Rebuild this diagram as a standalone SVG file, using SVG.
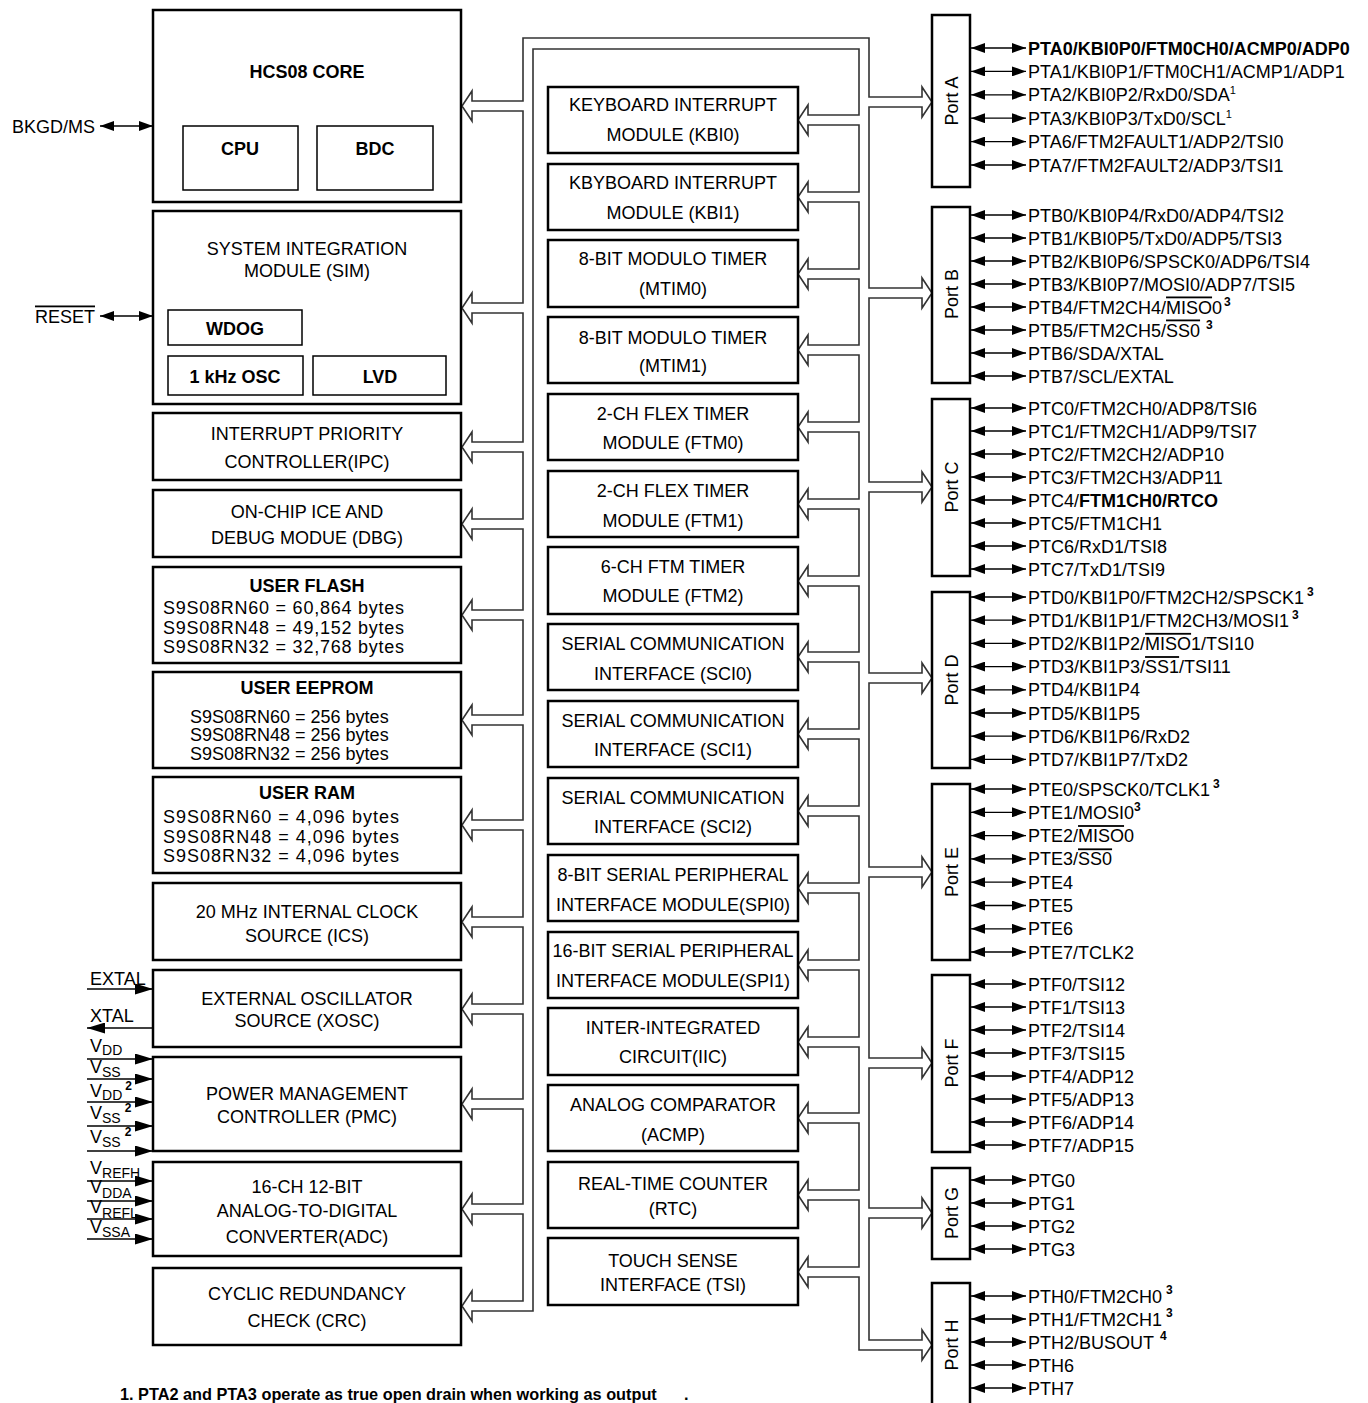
<svg xmlns="http://www.w3.org/2000/svg" width="1368" height="1403" viewBox="0 0 1368 1403">
<defs>
<style>
.bx{fill:#fff;stroke:#000;stroke-width:2.5}
.ib{fill:#fff;stroke:#000;stroke-width:1.5}
text{font-family:"Liberation Sans",Arial,Helvetica,sans-serif;font-size:18px;fill:#000}
.m{text-anchor:middle}
.b{font-weight:bold}
.bus{fill:#fff;stroke:#333;stroke-width:1.6;stroke-linejoin:miter}
.pin{stroke:#000;stroke-width:1.3;fill:none}
.pd{marker-start:url(#ah);marker-end:url(#ah)}
.pi{marker-end:url(#ah2)}
.sub{font-size:14px}
.sup{font-size:11px}
.sup3{font-size:12px;font-weight:bold}
.ov{text-decoration:overline}
.fn{font-size:16.3px;font-weight:bold}
</style>
<marker id="ah" viewBox="0 0 14 10" refX="14" refY="5" markerWidth="14" markerHeight="10" markerUnits="userSpaceOnUse" orient="auto-start-reverse"><path d="M0,0 L14,5 L0,10 z" fill="#000"/></marker>
<marker id="ah2" viewBox="0 0 18 11" refX="18" refY="5.5" markerWidth="18" markerHeight="11" markerUnits="userSpaceOnUse" orient="auto-start-reverse"><path d="M0,0 L18,5.5 L0,11 z" fill="#000"/></marker>
</defs>
<rect width="1368" height="1403" fill="#fff"/>

<g id="connectors">
<path class="bus" d="M533,49 L859,49
L859,115 L808,115 L808,105 L798,120 L808,135 L808,125 L859,125
L859,192 L808,192 L808,182 L798,197 L808,212 L808,202 L859,202
L859,269 L808,269 L808,259 L798,274 L808,289 L808,279 L859,279
L859,345 L808,345 L808,335 L798,350 L808,365 L808,355 L859,355
L859,422 L808,422 L808,412 L798,427 L808,442 L808,432 L859,432
L859,499 L808,499 L808,489 L798,504 L808,519 L808,509 L859,509
L859,576 L808,576 L808,566 L798,581 L808,596 L808,586 L859,586
L859,652 L808,652 L808,642 L798,657 L808,672 L808,662 L859,662
L859,729 L808,729 L808,719 L798,734 L808,749 L808,739 L859,739
L859,806 L808,806 L808,796 L798,811 L808,826 L808,816 L859,816
L859,883 L808,883 L808,873 L798,888 L808,903 L808,893 L859,893
L859,960 L808,960 L808,950 L798,965 L808,980 L808,970 L859,970
L859,1037 L808,1037 L808,1027 L798,1042 L808,1057 L808,1047 L859,1047
L859,1113 L808,1113 L808,1103 L798,1118 L808,1133 L808,1123 L859,1123
L859,1190 L808,1190 L808,1180 L798,1195 L808,1210 L808,1200 L859,1200
L859,1267 L808,1267 L808,1257 L798,1272 L808,1287 L808,1277 L859,1277
L859,1350 L922,1350 L922,1360 L932,1345 L922,1330 L922,1340 L869,1340
L869,1218 L922,1218 L922,1228 L932,1213 L922,1198 L922,1208 L869,1208
L869,1068 L922,1068 L922,1078 L932,1063 L922,1048 L922,1058 L869,1058
L869,877 L922,877 L922,887 L932,872 L922,857 L922,867 L869,867
L869,683 L922,683 L922,693 L932,678 L922,663 L922,673 L869,673
L869,492 L922,492 L922,502 L932,487 L922,472 L922,482 L869,482
L869,298 L922,298 L922,308 L932,293 L922,278 L922,288 L869,288
L869,107 L922,107 L922,117 L932,102 L922,87 L922,97 L869,97
L869,38 L523,38
L523,101 L472,101 L472,91 L462,106 L472,121 L472,111 L523,111
L523,303 L472,303 L472,293 L462,308 L472,323 L472,313 L523,313
L523,442 L472,442 L472,432 L462,447 L472,462 L472,452 L523,452
L523,519 L472,519 L472,509 L462,524 L472,539 L472,529 L523,529
L523,610 L472,610 L472,600 L462,615 L472,630 L472,620 L523,620
L523,715 L472,715 L472,705 L462,720 L472,735 L472,725 L523,725
L523,820 L472,820 L472,810 L462,825 L472,840 L472,830 L523,830
L523,917 L472,917 L472,907 L462,922 L472,937 L472,927 L523,927
L523,1004 L472,1004 L472,994 L462,1009 L472,1024 L472,1014 L523,1014
L523,1099 L472,1099 L472,1089 L462,1104 L472,1119 L472,1109 L523,1109
L523,1204 L472,1204 L472,1194 L462,1209 L472,1224 L472,1214 L523,1214
L523,1301 L472,1301 L472,1291 L462,1306 L472,1321 L472,1311 L533,1311 Z"/>

<!-- left pins -->
<line class="pin pd" x1="100" y1="126" x2="153" y2="126"/>
<line class="pin pd" x1="100" y1="316" x2="153" y2="316"/>
<line class="pin pi" x1="87" y1="989" x2="153" y2="989"/>
<line class="pin pi" x1="153" y1="1028" x2="87" y2="1028"/>
<line class="pin pi" x1="87" y1="1059" x2="153" y2="1059"/>
<line class="pin pi" x1="87" y1="1079" x2="153" y2="1079"/>
<line class="pin pi" x1="87" y1="1102" x2="153" y2="1102"/>
<line class="pin pi" x1="87" y1="1126" x2="153" y2="1126"/>
<line class="pin pi" x1="87" y1="1151" x2="153" y2="1151"/>
<line class="pin pi" x1="87" y1="1181" x2="153" y2="1181"/>
<line class="pin pi" x1="87" y1="1201" x2="153" y2="1201"/>
<line class="pin pi" x1="87" y1="1219" x2="153" y2="1219"/>
<line class="pin pi" x1="87" y1="1239" x2="153" y2="1239"/>

<!-- right pins -->
<g class="pin pd">
<line x1="971" y1="48" x2="1026" y2="48"/><line x1="971" y1="71.4" x2="1026" y2="71.4"/><line x1="971" y1="94.8" x2="1026" y2="94.8"/><line x1="971" y1="118.2" x2="1026" y2="118.2"/><line x1="971" y1="141.6" x2="1026" y2="141.6"/><line x1="971" y1="165" x2="1026" y2="165"/>
<line x1="971" y1="215" x2="1026" y2="215"/><line x1="971" y1="238" x2="1026" y2="238"/><line x1="971" y1="261" x2="1026" y2="261"/><line x1="971" y1="284" x2="1026" y2="284"/><line x1="971" y1="307" x2="1026" y2="307"/><line x1="971" y1="330" x2="1026" y2="330"/><line x1="971" y1="353" x2="1026" y2="353"/><line x1="971" y1="376" x2="1026" y2="376"/>
<line x1="971" y1="408" x2="1026" y2="408"/><line x1="971" y1="431" x2="1026" y2="431"/><line x1="971" y1="454" x2="1026" y2="454"/><line x1="971" y1="477" x2="1026" y2="477"/><line x1="971" y1="500" x2="1026" y2="500"/><line x1="971" y1="523" x2="1026" y2="523"/><line x1="971" y1="546" x2="1026" y2="546"/><line x1="971" y1="569" x2="1026" y2="569"/>
<line x1="971" y1="597" x2="1026" y2="597"/><line x1="971" y1="620.2" x2="1026" y2="620.2"/><line x1="971" y1="643.4" x2="1026" y2="643.4"/><line x1="971" y1="666.6" x2="1026" y2="666.6"/><line x1="971" y1="689.8" x2="1026" y2="689.8"/><line x1="971" y1="713" x2="1026" y2="713"/><line x1="971" y1="736.2" x2="1026" y2="736.2"/><line x1="971" y1="759.4" x2="1026" y2="759.4"/>
<line x1="971" y1="789" x2="1026" y2="789"/><line x1="971" y1="812.3" x2="1026" y2="812.3"/><line x1="971" y1="835.6" x2="1026" y2="835.6"/><line x1="971" y1="858.9" x2="1026" y2="858.9"/><line x1="971" y1="882.2" x2="1026" y2="882.2"/><line x1="971" y1="905.5" x2="1026" y2="905.5"/><line x1="971" y1="928.8" x2="1026" y2="928.8"/><line x1="971" y1="952" x2="1026" y2="952"/>
<line x1="971" y1="984" x2="1026" y2="984"/><line x1="971" y1="1007" x2="1026" y2="1007"/><line x1="971" y1="1030" x2="1026" y2="1030"/><line x1="971" y1="1053" x2="1026" y2="1053"/><line x1="971" y1="1076" x2="1026" y2="1076"/><line x1="971" y1="1099" x2="1026" y2="1099"/><line x1="971" y1="1122" x2="1026" y2="1122"/><line x1="971" y1="1145" x2="1026" y2="1145"/>
<line x1="971" y1="1180" x2="1026" y2="1180"/><line x1="971" y1="1203" x2="1026" y2="1203"/><line x1="971" y1="1226" x2="1026" y2="1226"/><line x1="971" y1="1249" x2="1026" y2="1249"/>
<line x1="971" y1="1296" x2="1026" y2="1296"/><line x1="971" y1="1319" x2="1026" y2="1319"/><line x1="971" y1="1342" x2="1026" y2="1342"/><line x1="971" y1="1365" x2="1026" y2="1365"/><line x1="971" y1="1388" x2="1026" y2="1388"/>
</g>
</g>

<!-- left column -->
<g id="hcs08-core">
<rect class="bx" x="153" y="10" width="308" height="192"/>
<text class="m b" x="307" y="77.5">HCS08 CORE</text>
<rect class="ib" x="183" y="126" width="115" height="64"/>
<text class="m b" x="240" y="154.5">CPU</text>
<rect class="ib" x="317" y="126" width="116" height="64"/>
<text class="m b" x="375" y="154.5">BDC</text>
</g>
<g id="bkgd"><text x="95" y="132.5" text-anchor="end">BKGD/MS</text></g>
<g id="sim">
<rect class="bx" x="153" y="211" width="308" height="193"/>
<text class="m" x="307" y="254.5">SYSTEM INTEGRATION</text>
<text class="m" x="307" y="276.5">MODULE (SIM)</text>
<rect class="ib" x="168" y="310" width="134" height="35"/>
<text class="m b" x="235" y="334.5">WDOG</text>
<rect class="ib" x="168" y="356" width="135" height="39"/>
<text class="m b" x="235" y="382.5">1 kHz OSC</text>
<rect class="ib" x="313" y="356" width="133" height="39"/>
<text class="m b" x="380" y="382.5">LVD</text>
</g>
<g id="reset"><text x="95" y="322.5" text-anchor="end" class="ov">RESET</text></g>
<g id="ipc">
<rect class="bx" x="153" y="413" width="308" height="67"/>
<text class="m" x="307" y="439.5">INTERRUPT PRIORITY</text>
<text class="m" x="307" y="467.5">CONTROLLER(IPC)</text>
</g>
<g id="dbg">
<rect class="bx" x="153" y="490" width="308" height="67"/>
<text class="m" x="307" y="517.5">ON-CHIP ICE AND</text>
<text class="m" x="307" y="543.5">DEBUG MODUE (DBG)</text>
</g>
<g id="flash">
<rect class="bx" x="153" y="567" width="308" height="96"/>
<text class="m b" x="307" y="591.5">USER FLASH</text>
<text x="163" y="614" textLength="241" lengthAdjust="spacing">S9S08RN60 = 60,864 bytes</text>
<text x="163" y="634" textLength="241" lengthAdjust="spacing">S9S08RN48 = 49,152 bytes</text>
<text x="163" y="653" textLength="241" lengthAdjust="spacing">S9S08RN32 = 32,768 bytes</text>
</g>
<g id="eeprom">
<rect class="bx" x="153" y="672" width="308" height="96"/>
<text class="m b" x="307" y="694">USER EEPROM</text>
<text x="190" y="723">S9S08RN60 = 256 bytes</text>
<text x="190" y="741">S9S08RN48 = 256 bytes</text>
<text x="190" y="760">S9S08RN32 = 256 bytes</text>
</g>
<g id="ram">
<rect class="bx" x="153" y="777" width="308" height="96"/>
<text class="m b" x="307" y="799">USER RAM</text>
<text x="163" y="823" textLength="236" lengthAdjust="spacing">S9S08RN60 = 4,096 bytes</text>
<text x="163" y="843" textLength="236" lengthAdjust="spacing">S9S08RN48 = 4,096 bytes</text>
<text x="163" y="862" textLength="236" lengthAdjust="spacing">S9S08RN32 = 4,096 bytes</text>
</g>
<g id="ics">
<rect class="bx" x="153" y="883" width="308" height="77"/>
<text class="m" x="307" y="917.5">20 MHz INTERNAL CLOCK</text>
<text class="m" x="307" y="941.5">SOURCE (ICS)</text>
</g>
<g id="xosc">
<rect class="bx" x="153" y="970" width="308" height="77"/>
<text class="m" x="307" y="1004.5">EXTERNAL OSCILLATOR</text>
<text class="m" x="307" y="1026.5">SOURCE (XOSC)</text>
</g>
<g id="pmc">
<rect class="bx" x="153" y="1057" width="308" height="94"/>
<text class="m" x="307" y="1099.5">POWER MANAGEMENT</text>
<text class="m" x="307" y="1122.5">CONTROLLER (PMC)</text>
</g>
<g id="adc">
<rect class="bx" x="153" y="1162" width="308" height="94"/>
<text class="m" x="307" y="1192.5">16-CH 12-BIT</text>
<text class="m" x="307" y="1216.5">ANALOG-TO-DIGITAL</text>
<text class="m" x="307" y="1242.5">CONVERTER(ADC)</text>
</g>
<g id="crc">
<rect class="bx" x="153" y="1268" width="308" height="77"/>
<text class="m" x="307" y="1299.5">CYCLIC REDUNDANCY</text>
<text class="m" x="307" y="1326.5">CHECK (CRC)</text>
</g>

<!-- left pin labels -->
<g id="left-pins">
<text x="90" y="985">EXTAL</text>
<text x="90" y="1022">XTAL</text>
<text x="90" y="1052">V<tspan class="sub" dy="3">DD</tspan></text>
<text x="90" y="1073">V<tspan class="sub" dy="4">SS</tspan></text>
<text x="90" y="1097">V<tspan class="sub" dy="3">DD</tspan><tspan class="sup3" dx="3" dy="-10">2</tspan></text>
<text x="90" y="1119">V<tspan class="sub" dy="4">SS</tspan><tspan class="sup3" dx="4" dy="-11">2</tspan></text>
<text x="90" y="1143">V<tspan class="sub" dy="4">SS</tspan><tspan class="sup3" dx="4" dy="-11">2</tspan></text>
<text x="90" y="1174">V<tspan class="sub" dy="4">REFH</tspan></text>
<text x="90" y="1193">V<tspan class="sub" dy="5">DDA</tspan></text>
<text x="90" y="1213">V<tspan class="sub" dy="5">REFL</tspan></text>
<text x="90" y="1233">V<tspan class="sub" dy="4">SSA</tspan></text>
</g>

<!-- middle column -->
<g id="kbi0"><rect class="bx" x="548" y="87" width="250" height="66"/><text class="m" x="673" y="111">KEYBOARD INTERRUPT</text><text class="m" x="673" y="140.5">MODULE (KBI0)</text></g>
<g id="kbi1"><rect class="bx" x="548" y="164" width="250" height="66"/><text class="m" x="673" y="188.5">KBYBOARD INTERRUPT</text><text class="m" x="673" y="218.5">MODULE (KBI1)</text></g>
<g id="mtim0"><rect class="bx" x="548" y="240" width="250" height="67"/><text class="m" x="673" y="264.5">8-BIT MODULO TIMER</text><text class="m" x="673" y="295">(MTIM0)</text></g>
<g id="mtim1"><rect class="bx" x="548" y="317" width="250" height="66"/><text class="m" x="673" y="343.5">8-BIT MODULO TIMER</text><text class="m" x="673" y="371.5">(MTIM1)</text></g>
<g id="ftm0"><rect class="bx" x="548" y="394" width="250" height="66"/><text class="m" x="673" y="419.5">2-CH FLEX TIMER</text><text class="m" x="673" y="448.5">MODULE (FTM0)</text></g>
<g id="ftm1"><rect class="bx" x="548" y="471" width="250" height="66"/><text class="m" x="673" y="496.5">2-CH FLEX TIMER</text><text class="m" x="673" y="526.5">MODULE (FTM1)</text></g>
<g id="ftm2"><rect class="bx" x="548" y="547" width="250" height="67"/><text class="m" x="673" y="572.5">6-CH FTM TIMER</text><text class="m" x="673" y="601.5">MODULE (FTM2)</text></g>
<g id="sci0"><rect class="bx" x="548" y="624" width="250" height="66"/><text class="m" x="673" y="649.5">SERIAL COMMUNICATION</text><text class="m" x="673" y="679.5">INTERFACE (SCI0)</text></g>
<g id="sci1"><rect class="bx" x="548" y="701" width="250" height="66"/><text class="m" x="673" y="726.5">SERIAL COMMUNICATION</text><text class="m" x="673" y="755.5">INTERFACE (SCI1)</text></g>
<g id="sci2"><rect class="bx" x="548" y="778" width="250" height="66"/><text class="m" x="673" y="803.5">SERIAL COMMUNICATION</text><text class="m" x="673" y="832.5">INTERFACE (SCI2)</text></g>
<g id="spi0"><rect class="bx" x="548" y="855" width="250" height="66"/><text class="m" x="673" y="880.5">8-BIT SERIAL PERIPHERAL</text><text class="m" x="673" y="910.5">INTERFACE MODULE(SPI0)</text></g>
<g id="spi1"><rect class="bx" x="548" y="932" width="250" height="66"/><text class="m" x="673" y="956.5">16-BIT SERIAL PERIPHERAL</text><text class="m" x="673" y="986.5">INTERFACE MODULE(SPI1)</text></g>
<g id="iic"><rect class="bx" x="548" y="1008" width="250" height="67"/><text class="m" x="673" y="1033.5">INTER-INTEGRATED</text><text class="m" x="673" y="1062.5">CIRCUIT(IIC)</text></g>
<g id="acmp"><rect class="bx" x="548" y="1085" width="250" height="66"/><text class="m" x="673" y="1110.5">ANALOG COMPARATOR</text><text class="m" x="673" y="1140.5">(ACMP)</text></g>
<g id="rtc"><rect class="bx" x="548" y="1162" width="250" height="66"/><text class="m" x="673" y="1189.5">REAL-TIME COUNTER</text><text class="m" x="673" y="1214.5">(RTC)</text></g>
<g id="tsi"><rect class="bx" x="548" y="1238" width="250" height="67"/><text class="m" x="673" y="1266.5">TOUCH SENSE</text><text class="m" x="673" y="1290.5">INTERFACE (TSI)</text></g>

<!-- ports -->
<g id="port-a"><rect class="bx" x="932" y="15" width="38" height="172"/><text class="m" transform="translate(951,101) rotate(-90)" y="6.5">Port A</text></g>
<g id="port-b"><rect class="bx" x="932" y="207" width="38" height="176"/><text class="m" transform="translate(951,294) rotate(-90)" y="6.5">Port B</text></g>
<g id="port-c"><rect class="bx" x="932" y="399" width="38" height="177"/><text class="m" transform="translate(951,487) rotate(-90)" y="6.5">Port C</text></g>
<g id="port-d"><rect class="bx" x="932" y="592" width="38" height="176"/><text class="m" transform="translate(951,680) rotate(-90)" y="6.5">Port D</text></g>
<g id="port-e"><rect class="bx" x="932" y="784" width="38" height="176"/><text class="m" transform="translate(951,872) rotate(-90)" y="6.5">Port E</text></g>
<g id="port-f"><rect class="bx" x="932" y="975" width="38" height="177"/><text class="m" transform="translate(951,1063) rotate(-90)" y="6.5">Port F</text></g>
<g id="port-g"><rect class="bx" x="932" y="1168" width="38" height="91"/><text class="m" transform="translate(951,1213) rotate(-90)" y="6.5">Port G</text></g>
<g id="port-h"><rect class="bx" x="932" y="1283" width="38" height="140"/><text class="m" transform="translate(951,1345) rotate(-90)" y="6.5">Port H</text></g>

<!-- right pin labels -->
<g id="pin-labels">
<text class="b" x="1028" y="54.5">PTA0/KBI0P0/FTM0CH0/ACMP0/ADP0</text>
<text x="1028" y="77.9">PTA1/KBI0P1/FTM0CH1/ACMP1/ADP1</text>
<text x="1028" y="101.3">PTA2/KBI0P2/RxD0/SDA<tspan class="sup" dy="-7">1</tspan></text>
<text x="1028" y="124.7">PTA3/KBI0P3/TxD0/SCL<tspan class="sup" dy="-7">1</tspan></text>
<text x="1028" y="148.1">PTA6/FTM2FAULT1/ADP2/TSI0</text>
<text x="1028" y="171.5">PTA7/FTM2FAULT2/ADP3/TSI1</text>

<text x="1028" y="221.5">PTB0/KBI0P4/RxD0/ADP4/TSI2</text>
<text x="1028" y="244.5">PTB1/KBI0P5/TxD0/ADP5/TSI3</text>
<text x="1028" y="267.5">PTB2/KBI0P6/SPSCK0/ADP6/TSI4</text>
<text x="1028" y="290.5">PTB3/KBI0P7/MOSI0/ADP7/TSI5</text>
<text x="1028" y="313.5">PTB4/FTM2CH4/<tspan class="ov">MISO</tspan>0<tspan class="sup3" dx="2" dy="-8">3</tspan></text>
<text x="1028" y="336.5">PTB5/FTM2CH5/<tspan class="ov">SS0</tspan><tspan class="sup3" dx="6" dy="-8">3</tspan></text>
<text x="1028" y="359.5">PTB6/SDA/XTAL</text>
<text x="1028" y="382.5">PTB7/SCL/EXTAL</text>

<text x="1028" y="414.5">PTC0/FTM2CH0/ADP8/TSI6</text>
<text x="1028" y="437.5">PTC1/FTM2CH1/ADP9/TSI7</text>
<text x="1028" y="460.5">PTC2/FTM2CH2/ADP10</text>
<text x="1028" y="483.5">PTC3/FTM2CH3/ADP11</text>
<text x="1028" y="506.5">PTC4/<tspan class="b">FTM1CH0/RTCO</tspan></text>
<text x="1028" y="529.5">PTC5/FTM1CH1</text>
<text x="1028" y="552.5">PTC6/RxD1/TSI8</text>
<text x="1028" y="575.5">PTC7/TxD1/TSI9</text>

<text x="1028" y="603.5">PTD0/KBI1P0/FTM2CH2/SPSCK1<tspan class="sup3" dx="3" dy="-8">3</tspan></text>
<text x="1028" y="626.7">PTD1/KBI1P1/FTM2CH3/MOSI1<tspan class="sup3" dx="3" dy="-8">3</tspan></text>
<text x="1028" y="649.9">PTD2/KBI1P2/<tspan class="ov">MISO</tspan>1/TSI10</text>
<text x="1028" y="673.1">PTD3/KBI1P3/<tspan class="ov">SS1</tspan>/TSI11</text>
<text x="1028" y="696.3">PTD4/KBI1P4</text>
<text x="1028" y="719.5">PTD5/KBI1P5</text>
<text x="1028" y="742.7">PTD6/KBI1P6/RxD2</text>
<text x="1028" y="765.9">PTD7/KBI1P7/TxD2</text>

<text x="1028" y="795.5">PTE0/SPSCK0/TCLK1<tspan class="sup3" dx="3" dy="-8">3</tspan></text>
<text x="1028" y="818.8">PTE1/MOSI0<tspan class="sup3" dy="-8">3</tspan></text>
<text x="1028" y="842.1">PTE2/<tspan class="ov">MISO</tspan>0</text>
<text x="1028" y="865.4">PTE3/<tspan class="ov">SS0</tspan></text>
<text x="1028" y="888.7">PTE4</text>
<text x="1028" y="912">PTE5</text>
<text x="1028" y="935.3">PTE6</text>
<text x="1028" y="958.5">PTE7/TCLK2</text>

<text x="1028" y="990.5">PTF0/TSI12</text>
<text x="1028" y="1013.5">PTF1/TSI13</text>
<text x="1028" y="1036.5">PTF2/TSI14</text>
<text x="1028" y="1059.5">PTF3/TSI15</text>
<text x="1028" y="1082.5">PTF4/ADP12</text>
<text x="1028" y="1105.5">PTF5/ADP13</text>
<text x="1028" y="1128.5">PTF6/ADP14</text>
<text x="1028" y="1151.5">PTF7/ADP15</text>

<text x="1028" y="1186.5">PTG0</text>
<text x="1028" y="1209.5">PTG1</text>
<text x="1028" y="1232.5">PTG2</text>
<text x="1028" y="1255.5">PTG3</text>

<text x="1028" y="1302.5">PTH0/FTM2CH0<tspan class="sup3" dx="4" dy="-9">3</tspan></text>
<text x="1028" y="1325.5">PTH1/FTM2CH1<tspan class="sup3" dx="4" dy="-9">3</tspan></text>
<text x="1028" y="1348.5">PTH2/BUSOUT<tspan class="sup3" dx="6" dy="-9">4</tspan></text>
<text x="1028" y="1371.5">PTH6</text>
<text x="1028" y="1394.5">PTH7</text>
</g>

<g id="footnote"><text class="fn" x="120" y="1400">1. PTA2 and PTA3 operate as true open drain when working as output<tspan x="684">.</tspan></text></g>
</svg>
